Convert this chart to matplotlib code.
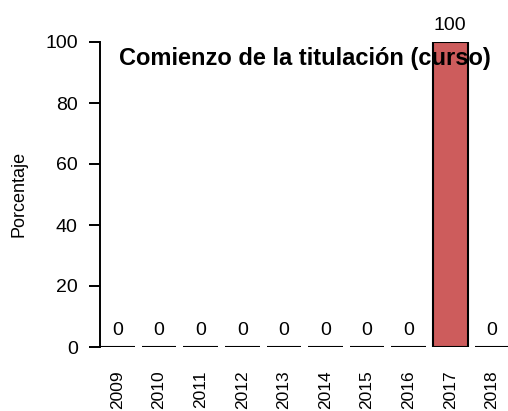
import matplotlib
matplotlib.use("Agg")
import matplotlib.pyplot as plt
import numpy as np

years = ['2009', '2010', '2011', '2012', '2013', '2014', '2015', '2016', '2017', '2018']
percent = [0, 0, 0, 0, 0, 0, 0, 0, 100, 0]
yticks = [0, 20, 40, 60, 80, 100]
title = 'Comienzo de la titulación (curso)'

plt.rcParams['font.family'] = ['Liberation Sans', 'DejaVu Sans']

fig = plt.figure(figsize=(5.08, 4.11), dpi=100)
ax = fig.add_axes([100 / 508, 64 / 411, 408 / 508, 305 / 411])

x = np.arange(len(years))
ax.bar(x, percent, width=0.833, color='#CD5C5C', edgecolor='black', linewidth=1.5)
for xi, v in zip(x, percent):
    ax.annotate(str(v), (xi, v), xytext=(0, 6), textcoords='offset points',
                ha='center', va='bottom', fontsize=14)

ax.set_xlim(-0.42, 9.387)
ax.set_ylim(0, 100)
ax.set_yticks(yticks)
ax.set_xticks(x)
ax.set_xticklabels(years, rotation=90, va='top')
ax.tick_params(axis='x', length=0, pad=17, labelsize=12.5)
ax.tick_params(axis='y', length=8, width=1.4, pad=8, labelsize=14)
for s in ['top', 'right', 'bottom']:
    ax.spines[s].set_visible(False)
ax.spines['left'].set_linewidth(1.4)
ax.spines['left'].set_bounds(0, 100)
ax.patch.set_visible(False)

ax.text(0.502, 0.947, title, transform=ax.transAxes, ha='center', va='center',
        fontsize=17, fontweight='bold')
fig.text(19 / 508, 0.527, 'Porcentaje', rotation=90, ha='center', va='center', fontsize=13)

fig.savefig('out.png', dpi=100)
